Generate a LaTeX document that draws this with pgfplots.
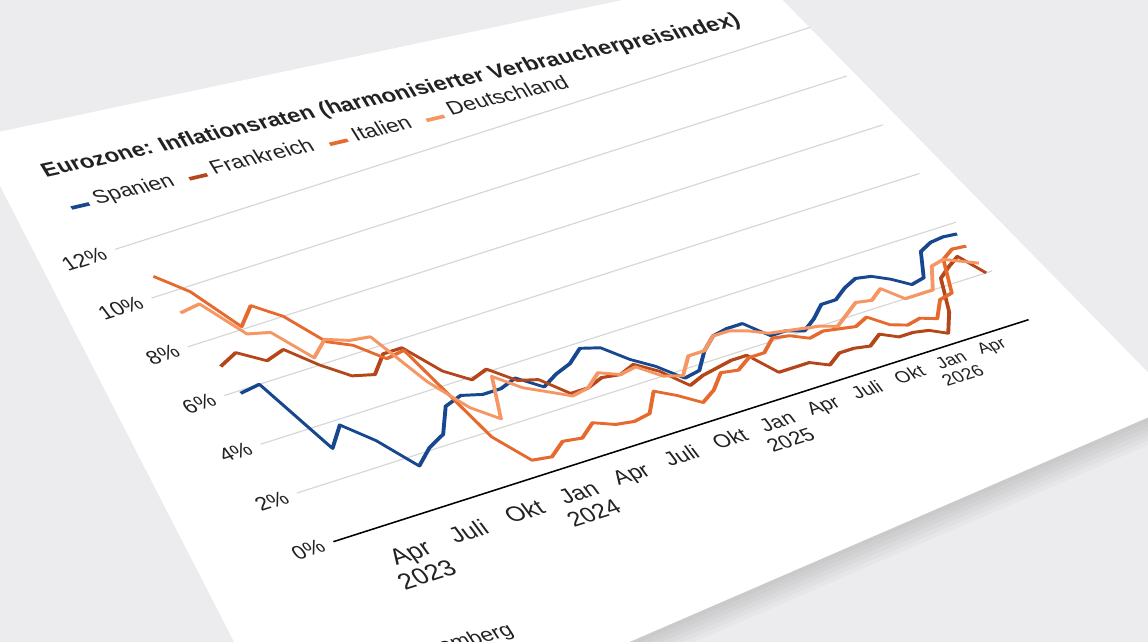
\documentclass[border=0pt]{standalone}
\usepackage{pgfplots}
\pgfplotsset{compat=1.18}
\usepackage{pgfplotstable}
\usepackage{fontspec}
\setmainfont{Liberation Sans}
\definecolor{cES}{HTML}{17478F}
\definecolor{cFR}{HTML}{B4461A}
\definecolor{cIT}{HTML}{E6692D}
\definecolor{cDE}{HTML}{F59663}
\definecolor{bg}{HTML}{ECECEE}
\definecolor{gridc}{HTML}{D6D6D6}
\definecolor{txt}{HTML}{222222}
% tick label: raise, font size, line skip, text
\newcommand\xl[4]{\raisebox{#1pt}[\height][\depth]{\fontsize{#2}{#3}\selectfont\begin{tabular}{@{}c@{}}#4\end{tabular}}}

% month index: 1 = Jan 2023
\pgfplotstableread{
t v
1 5.9
2 6.0
3 3.1
4 3.8
5 2.9
6 1.6
7 2.1
8 2.4
9 3.3
10 3.5
11 3.3
12 3.3
13 3.5
14 2.9
15 3.2
16 3.4
17 3.8
18 3.6
19 2.9
20 2.4
21 1.7
22 1.8
23 2.4
24 2.8
25 2.9
26 2.9
27 2.2
28 2.2
29 2.0
30 2.3
31 2.7
32 2.7
33 3.0
34 3.2
35 3.1
36 2.8
37 2.4
38 2.5
39 3.4
40 3.6
41 3.65
42 3.6
}\dataES

\pgfplotstableread{
t v
1 7.0
2 7.3
3 6.7
4 6.9
5 6.0
6 5.3
7 5.1
8 5.7
9 5.7
10 4.5
11 3.9
12 4.1
13 3.4
14 3.2
15 2.4
16 2.4
17 2.6
18 2.5
19 2.7
20 2.2
21 1.4
22 1.6
23 1.7
24 1.8
25 1.8
26 0.9
27 0.9
28 0.9
29 0.6
30 0.9
31 0.9
32 0.8
33 1.1
34 0.8
35 0.8
36 0.7
37 0.4
38 1.1
39 2.3
40 2.6
41 2.85
42 2.0
}\dataFR

\pgfplotstableread{
t v
1 10.7
2 9.8
3 8.1
4 8.7
5 8.0
6 6.7
7 6.3
8 5.5
9 5.6
10 1.8
11 0.6
12 0.5
13 0.9
14 0.8
15 1.2
16 0.9
17 0.8
18 0.9
19 1.6
20 1.2
21 0.7
22 1.0
23 1.5
24 1.4
25 1.7
26 1.7
27 2.1
28 2.0
29 1.7
30 1.8
31 1.7
32 1.6
33 1.8
34 1.3
35 1.1
36 1.2
37 1.0
38 1.6
39 1.7
40 2.9
41 3.15
42 3.1
}\dataIT

\pgfplotstableread{
t v
1 9.2
2 9.3
3 7.8
4 7.6
5 6.3
6 6.8
7 6.5
8 6.4
9 4.3
10 3.0
11 2.3
12 3.8
13 3.1
14 2.7
15 2.3
16 2.4
17 2.8
18 2.5
19 2.6
20 2.0
21 1.8
22 2.4
23 2.4
24 2.8
25 2.8
26 2.6
27 2.3
28 2.2
29 2.1
30 2.0
31 1.8
32 2.1
33 2.4
34 2.3
35 2.6
36 2.0
37 2.0
38 2.0
39 2.8
40 2.9
41 2.65
42 2.4
}\dataDE

\begin{document}
\begin{tikzpicture}
\useasboundingbox (0pt,0pt) rectangle (574pt,321pt);
\fill[bg] (0pt,0pt) rectangle (574pt,321pt);
% card shadow
\foreach \i in {1,...,6} {
  \fill[black,opacity=0.025, shift={({\i*1.2pt},{-\i*1.8pt})}]
    (-12.5pt,252.5pt) -- (377.5pt,335pt) -- (589.5pt,119pt) -- (153pt,-70pt) -- cycle;
}
% card
\fill[white] (-12.5pt,252.5pt) -- (377.5pt,335pt) -- (589.5pt,119pt) -- (153pt,-70pt) -- cycle;

\begin{scope}[cm={0.9525,0.3042,-0.5983,0.8014,(166.7pt,50.15pt)}, transform shape]
\begin{axis}[
  at={(0pt,0pt)}, anchor=south west,
  width=364.9pt, height=182.4pt, scale only axis,
  xmin=0.3, xmax=42.46, ymin=0, ymax=12,
  enlargelimits=false,
  clip=false,
  % perspective compression of the time axis (ticks below are placed on the same scale)
  x filter/.expression={0.3+53.44*(x-0.3)/(42.16+0.2676*(x-0.3))},
  axis x line*=bottom, axis y line*=left,
  y axis line style={draw=none},
  x axis line style={-, black, line width=0.8pt},
  major tick length=0pt,
  ytick={0,2,4,6,8,10,12},
  yticklabels={0\%,2\%,4\%,6\%,8\%,10\%,12\%},
  xtick={3.665,7.273,10.751,14.105,17.343,20.470,23.492,26.413,29.239,31.975,34.624,37.192,39.681},
  xticklabels={
    {\xl{-5.8}{12.6}{13.9}{Apr\\2023}},
    {\xl{-4.9}{12.2}{13.4}{Juli}},
    {\xl{-4.0}{11.9}{13.1}{Okt}},
    {\xl{-3.2}{11.6}{12.8}{Jan\\2024}},
    {\xl{-2.4}{11.2}{12.3}{Apr}},
    {\xl{-1.6}{10.9}{12}{Juli}},
    {\xl{-0.8}{10.6}{11.7}{Okt}},
    {\xl{-0.1}{10.3}{11.3}{Jan\\2025}},
    {\xl{0.6}{10.0}{11}{Apr}},
    {\xl{1.3}{9.7}{10.7}{Juli}},
    {\xl{2.0}{9.3}{10.2}{Okt}},
    {\xl{2.6}{9.0}{9.9}{Jan\\2026}},
    {\xl{3.2}{8.7}{9.6}{Apr}}},
  xticklabel style={text=txt, yshift=-3pt},
  yticklabel style={font=\fontsize{10.7}{12.5}\selectfont, text=txt, xshift=-2pt},
  ymajorgrids,
  grid style={gridc, line width=0.6pt},
  title={Eurozone: Inflationsraten (harmonisierter Verbraucherpreisindex)},
  title style={at={(-0.0164,1.260)}, anchor=base west, rotate=-5.87, yshift=-6pt,
    font=\bfseries\fontsize{11.05}{13}\selectfont, text=txt, inner sep=0pt},
  legend columns=4,
  legend style={at={(-0.0183,1.196)}, anchor=north west,
    draw=none, fill=none, inner sep=0pt,
    font=\fontsize{10.7}{12}\selectfont, text=txt,
    nodes={rotate=-5},
    /tikz/every even column/.append style={column sep=4pt},
    /tikz/column 2/.style={yshift=-0.8pt},
    /tikz/column 3/.style={yshift=-4.3pt},
    /tikz/column 4/.style={yshift=-5.1pt},
    /tikz/column 5/.style={yshift=-9.5pt},
    /tikz/column 6/.style={yshift=-10.4pt},
    /tikz/column 7/.style={yshift=-13.0pt},
    /tikz/column 8/.style={yshift=-13.8pt}},
  legend image code/.code={\draw[#1, line width=2pt, line cap=butt, rotate=-5] (0pt,0pt) -- (9pt,0pt);},
  every axis plot/.append style={line width=1.7pt, line join=round},
]
\addplot[cES] table[x=t,y=v] {\dataES};
\addlegendentry{Spanien}
\addplot[cFR] table[x=t,y=v] {\dataFR};
\addlegendentry{Frankreich}
\addplot[cIT] table[x=t,y=v] {\dataIT};
\addlegendentry{Italien}
\addplot[cDE] table[x=t,y=v] {\dataDE};
\addlegendentry{Deutschland}
\node[anchor=base east, rotate=-4, font=\fontsize{10.7}{12}\selectfont, text=txt]
  at (rel axis cs:0.140,-0.4185) {Quelle: Bloomberg};
\end{axis}
\end{scope}
\end{tikzpicture}
\end{document}
